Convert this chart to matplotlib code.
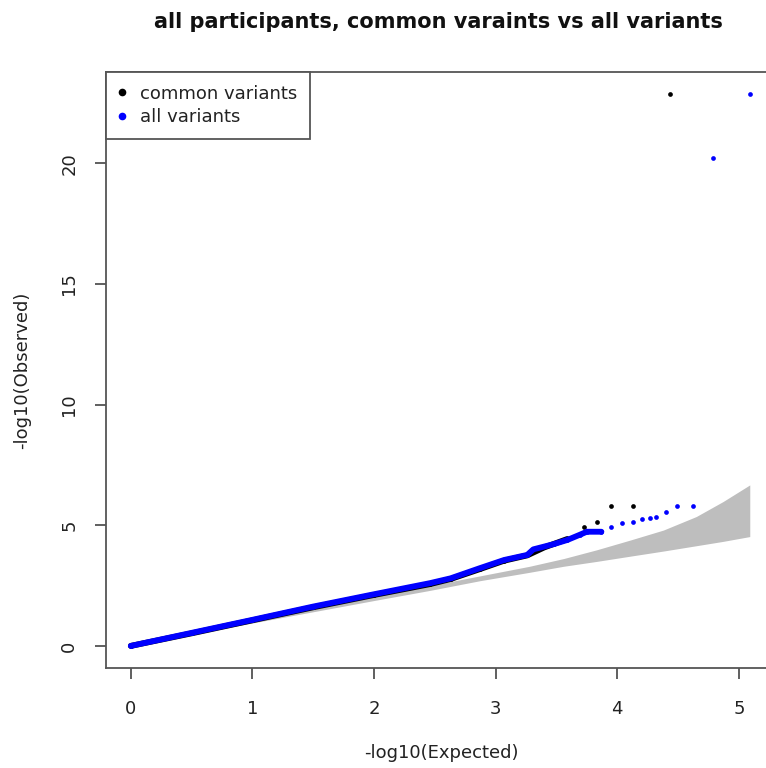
import matplotlib
matplotlib.use("Agg")
import matplotlib.pyplot as plt
from matplotlib.lines import Line2D

plt.rcParams['font.family'] = ['DejaVu Sans']

# expected vs observed -log10(p), all variants
all_exp = [0.0, 0.5, 1.0, 1.5, 2.0, 2.46, 2.63, 2.87, 3.07, 3.26, 3.31, 3.48, 3.59,
           3.69, 3.75, 3.87, 3.95, 4.04, 4.13, 4.20, 4.27, 4.32, 4.40, 4.49, 4.62,
           4.79, 5.09]
all_obs = [0.0, 0.54, 1.08, 1.63, 2.14, 2.6, 2.80, 3.22, 3.56, 3.77, 4.0, 4.22, 4.39,
           4.6, 4.73, 4.73, 4.94, 5.11, 5.12, 5.26, 5.31, 5.33, 5.53, 5.81, 5.81,
           20.2, 22.86]
all_dense = 16  # points up to here are packed into a solid trace

# common variants only
common_exp = [0.0, 0.5, 1.0, 1.5, 2.0, 2.46, 2.63, 2.87, 3.07, 3.26, 3.4, 3.59,
              3.73, 3.83, 3.95, 4.13, 4.43]
common_obs = [0.0, 0.52, 1.06, 1.6, 2.11, 2.56, 2.77, 3.18, 3.53, 3.75, 4.08, 4.43,
              4.94, 5.12, 5.81, 5.81, 22.86]
common_dense = 12

# 95% band around the null
band_x = [0.0, 1.0, 2.0, 2.46, 2.87, 3.28, 3.56, 3.83, 4.11, 4.38, 4.65, 4.87, 5.09]
band_lo = [0.0, 0.95, 1.88, 2.3, 2.7, 3.05, 3.3, 3.5, 3.72, 3.93, 4.15, 4.33, 4.53]
band_hi = [0.01, 1.01, 2.03, 2.5, 2.9, 3.3, 3.62, 3.98, 4.39, 4.8, 5.36, 5.98, 6.67]

x_ticks = [0, 1, 2, 3, 4, 5]
y_ticks = [0, 5, 10, 15, 20]

W, H = 766, 768
fig = plt.figure(figsize=(W / 100, H / 100), dpi=100)
ax = fig.add_axes([106 / W, 100 / H, 671 / W, 596 / H])

ax.fill_between(band_x, band_lo, band_hi, color='#bebebe', lw=0, zorder=1)

ax.plot(common_exp[:common_dense], common_obs[:common_dense], color='black',
        lw=4.2, solid_capstyle='round', zorder=2)
ax.plot(common_exp, common_obs, 'o', color='black', ms=3.4, mew=0, zorder=2)
ax.plot(all_exp[:all_dense], all_obs[:all_dense], color='#0000ff',
        lw=4.2, solid_capstyle='round', zorder=3)
ax.plot(all_exp, all_obs, 'o', color='#0000ff', ms=3.4, mew=0, zorder=3)

ax.set_xlim(-0.204, 5.314)
ax.set_ylim(-0.916, 23.78)
ax.set_xticks(x_ticks)
ax.set_yticks(y_ticks)
ax.tick_params(direction='out', length=8, width=1.2, color='#444444',
               labelsize=13, labelcolor='#222222', pad=12, top=False, right=False)
ax.tick_params(axis='x', pad=15)
for lab in ax.get_yticklabels():
    lab.set_rotation(90)
    lab.set_va('center')
for sp in ax.spines.values():
    sp.set_color('#555555')
    sp.set_linewidth(1.3)

handles = [Line2D([], [], ls='none', marker='o', color='black', ms=5.5, mew=0),
           Line2D([], [], ls='none', marker='o', color='#0000ff', ms=5.5, mew=0)]
leg = ax.legend(handles, ['common variants', 'all variants'], loc='upper left',
                bbox_to_anchor=(0, 1), borderaxespad=0, fontsize=13,
                fancybox=False, framealpha=1, edgecolor='#555555',
                borderpad=0.7, labelspacing=0.3, handlelength=0.4,
                handletextpad=0.8)
leg.get_frame().set_linewidth(1.3)
for t in leg.get_texts():
    t.set_color('#222222')

fig.text(438.5 / W, 1 - 22 / H, 'all participants, common varaints vs all variants',
         ha='center', va='center', fontsize=15, fontweight='bold', color='#111111')
fig.text(441.5 / W, 1 - 753 / H, '-log10(Expected)', ha='center', va='center',
         fontsize=13, color='#222222')
fig.text(22 / W, 1 - 370 / H, '-log10(Observed)', ha='center', va='center',
         rotation=90, fontsize=13, color='#222222')

fig.savefig('out.png', dpi=100)
